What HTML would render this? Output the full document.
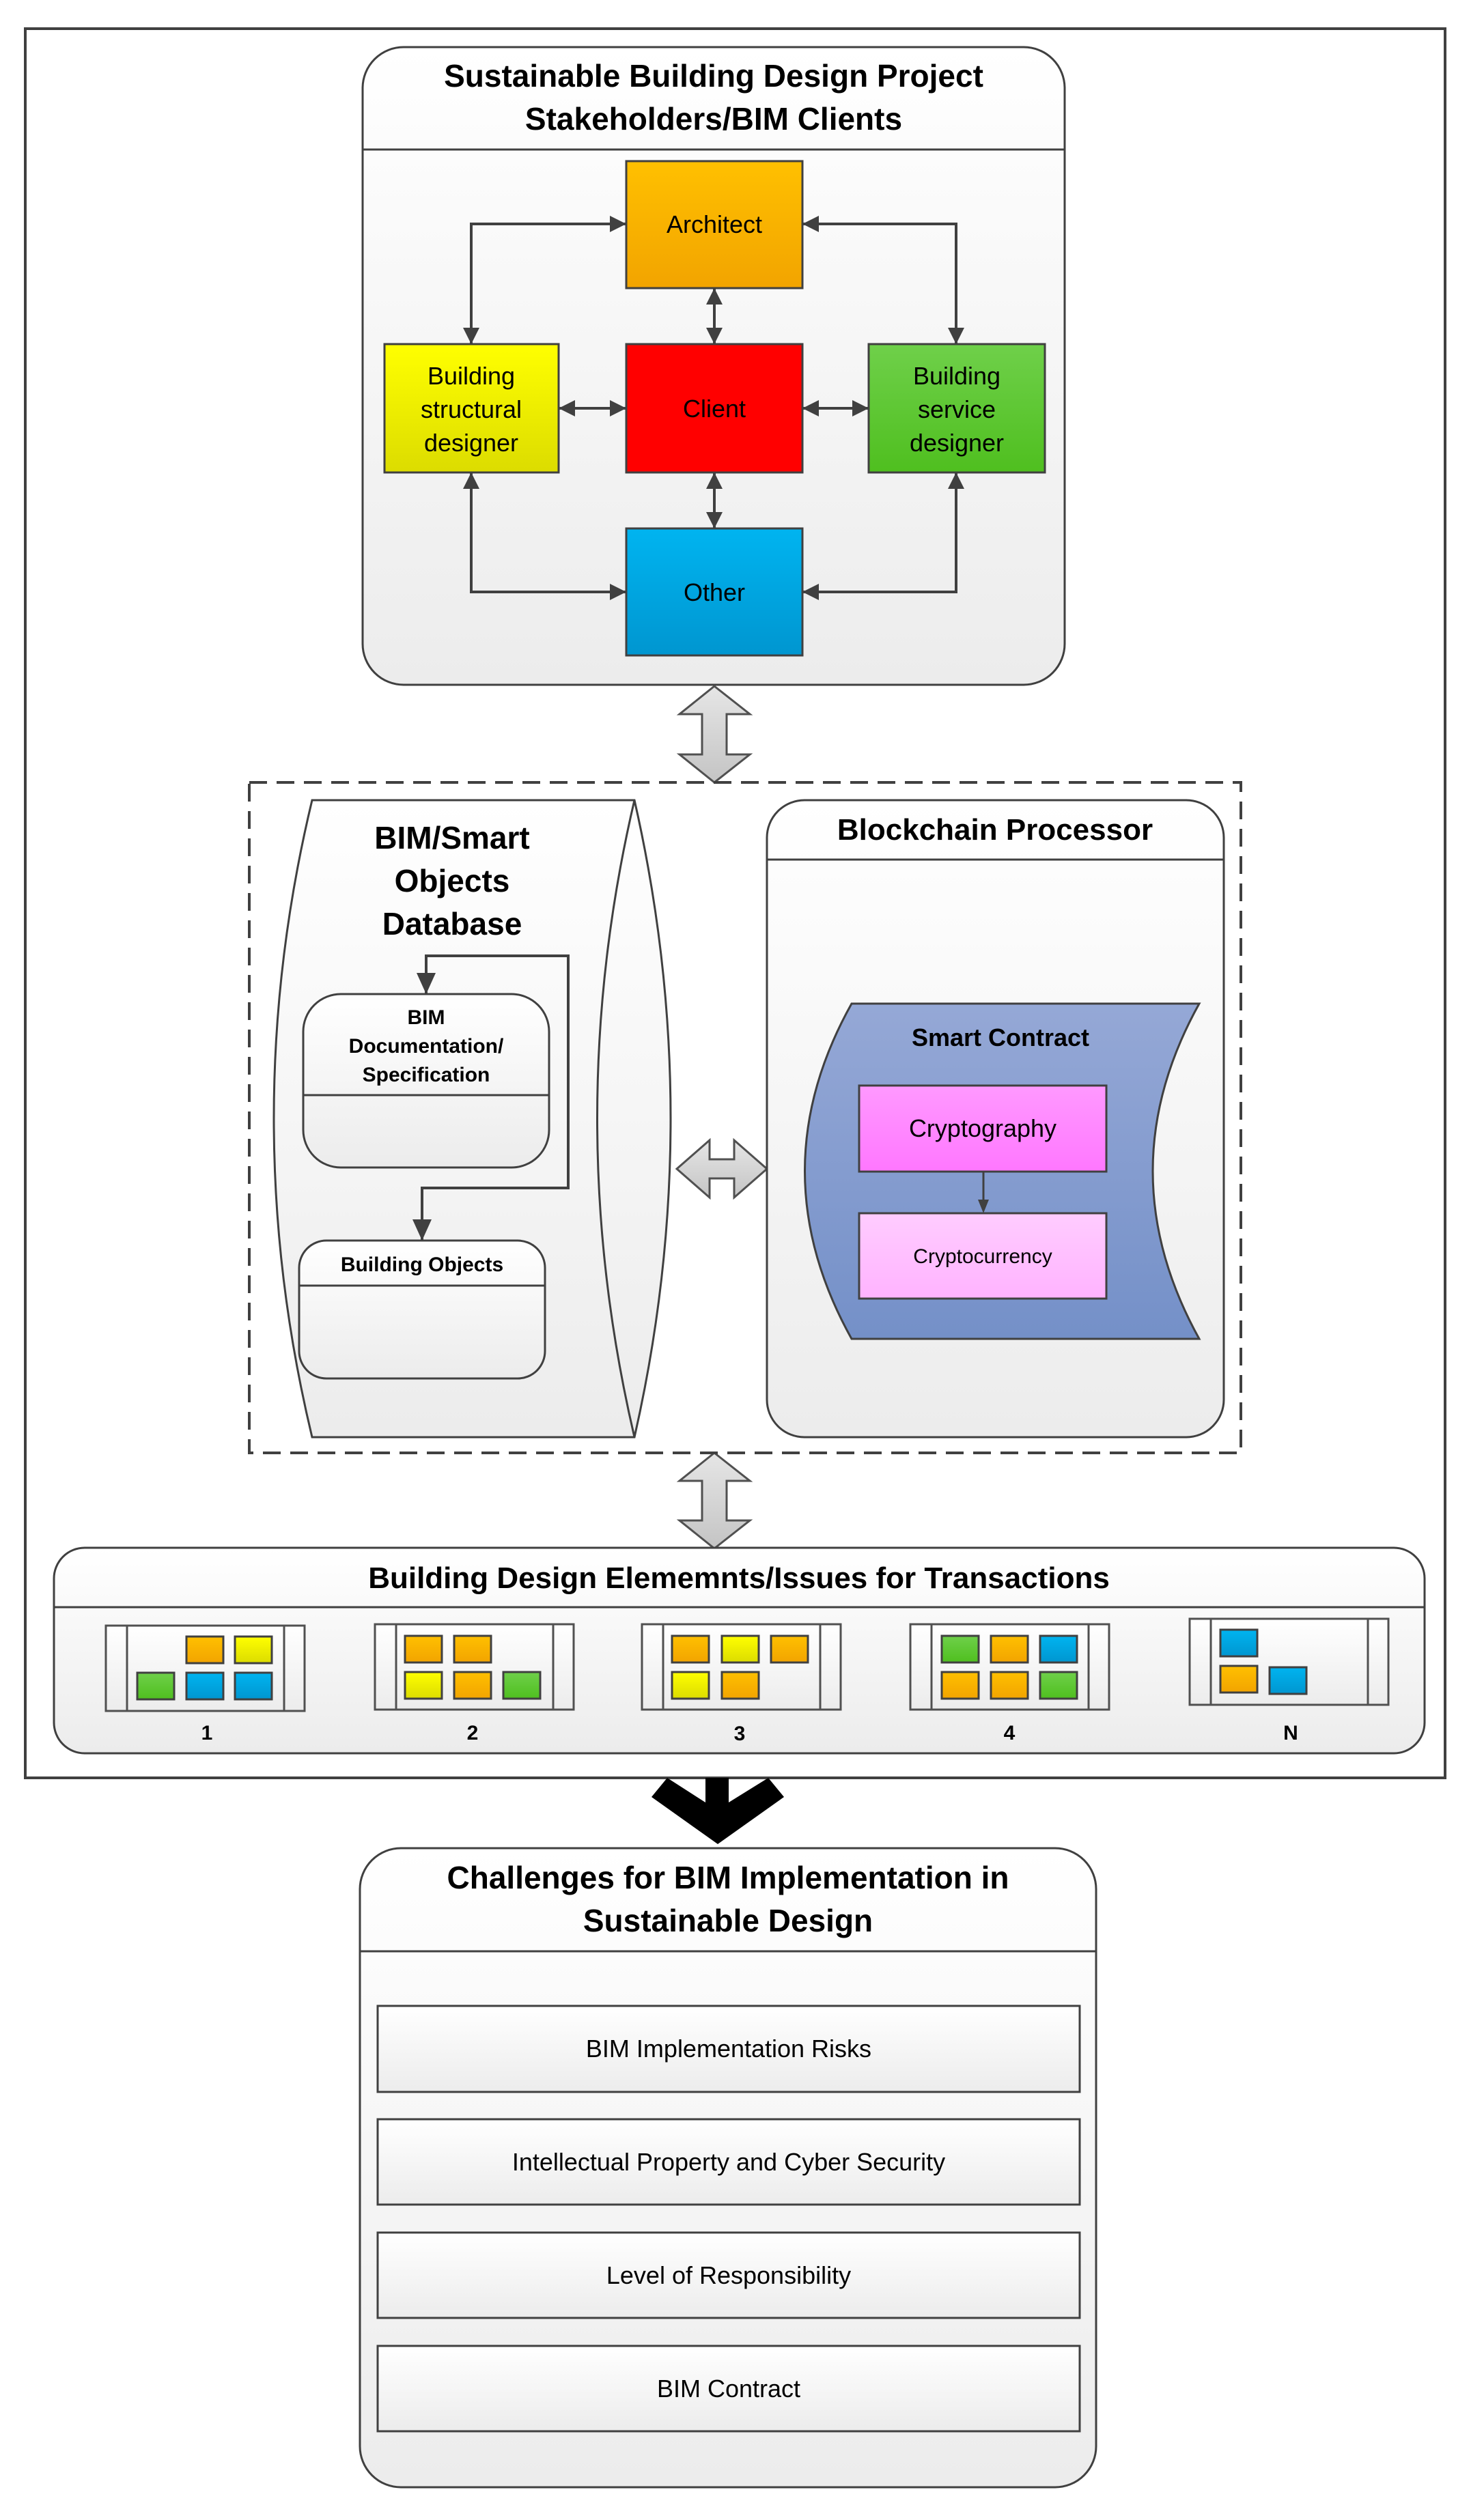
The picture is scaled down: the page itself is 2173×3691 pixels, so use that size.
<!DOCTYPE html>
<html><head><meta charset="utf-8"><style>
html,body{margin:0;padding:0;background:#fff}
svg{display:block}
text{font-family:"Liberation Sans",sans-serif;fill:#000}
</style></head><body>
<svg width="2173" height="3691" viewBox="0 0 2173 3691" xmlns="http://www.w3.org/2000/svg">
<defs>
<linearGradient id="gw" x1="0" y1="0" x2="0" y2="1"><stop offset="0" stop-color="#ffffff"/><stop offset="1" stop-color="#ececec"/></linearGradient>
<linearGradient id="ga" x1="0" y1="0" x2="0" y2="1"><stop offset="0" stop-color="#ffc000"/><stop offset="1" stop-color="#f2a400"/></linearGradient>
<linearGradient id="gy" x1="0" y1="0" x2="0" y2="1"><stop offset="0" stop-color="#ffff00"/><stop offset="1" stop-color="#dcdc00"/></linearGradient>
<linearGradient id="gg" x1="0" y1="0" x2="0" y2="1"><stop offset="0" stop-color="#6fd04a"/><stop offset="1" stop-color="#4fbf1f"/></linearGradient>
<linearGradient id="gb" x1="0" y1="0" x2="0" y2="1"><stop offset="0" stop-color="#00b4f0"/><stop offset="1" stop-color="#0096d0"/></linearGradient>
<linearGradient id="gs" x1="0" y1="0" x2="0" y2="1"><stop offset="0" stop-color="#95a8d6"/><stop offset="1" stop-color="#7490c8"/></linearGradient>
<linearGradient id="gp" x1="0" y1="0" x2="0" y2="1"><stop offset="0" stop-color="#ff99ff"/><stop offset="1" stop-color="#ff77ff"/></linearGradient>
<linearGradient id="gl" x1="0" y1="0" x2="0" y2="1"><stop offset="0" stop-color="#ffccff"/><stop offset="1" stop-color="#ffb3ff"/></linearGradient>
<linearGradient id="gar" x1="0" y1="0" x2="0" y2="1"><stop offset="0" stop-color="#e6e6e6"/><stop offset="1" stop-color="#c4c4c4"/></linearGradient>
<marker id="ah" viewBox="0 0 10 10" refX="10" refY="5" markerWidth="10" markerHeight="10" markerUnits="userSpaceOnUse" orient="auto-start-reverse"><path d="M0,0 L10,5 L0,10z" fill="#404040"/></marker>
<marker id="ah2" viewBox="0 0 10 10" refX="10" refY="5" markerWidth="28" markerHeight="24" markerUnits="userSpaceOnUse" orient="auto-start-reverse"><path d="M0,0 L10,5 L0,10z" fill="#404040"/></marker>
</defs>

<!-- outer border -->
<rect x="37" y="42" width="2079" height="2562" fill="none" stroke="#404040" stroke-width="4"/>

<!-- top panel -->
<rect x="531" y="69" width="1028" height="934" rx="60" fill="url(#gw)" stroke="#404040" stroke-width="3"/>
<line x1="531" y1="219" x2="1559" y2="219" stroke="#404040" stroke-width="3"/>
<text x="1045" y="127" font-size="46" font-weight="bold" text-anchor="middle">Sustainable Building Design Project</text>
<text x="1045" y="190" font-size="46" font-weight="bold" text-anchor="middle">Stakeholders/BIM Clients</text>

<g stroke="#404040" stroke-width="4" fill="none">
<path d="M917,328 H690 V504" marker-start="url(#ah2)" marker-end="url(#ah2)"/>
<path d="M1175,328 H1400 V504" marker-start="url(#ah2)" marker-end="url(#ah2)"/>
<path d="M917,867 H690 V692" marker-start="url(#ah2)" marker-end="url(#ah2)"/>
<path d="M1175,867 H1400 V692" marker-start="url(#ah2)" marker-end="url(#ah2)"/>
<path d="M1046,422 V504" marker-start="url(#ah2)" marker-end="url(#ah2)"/>
<path d="M1046,692 V774" marker-start="url(#ah2)" marker-end="url(#ah2)"/>
<path d="M818,598 H917" marker-start="url(#ah2)" marker-end="url(#ah2)"/>
<path d="M1175,598 H1272" marker-start="url(#ah2)" marker-end="url(#ah2)"/>
</g>
<g stroke="#404040" stroke-width="3">
<rect x="917" y="236" width="258" height="186" fill="url(#ga)"/>
<rect x="563" y="504" width="255" height="188" fill="url(#gy)"/>
<rect x="917" y="504" width="258" height="188" fill="#ff0000"/>
<rect x="1272" y="504" width="258" height="188" fill="url(#gg)"/>
<rect x="917" y="774" width="258" height="186" fill="url(#gb)"/>
</g>
<g font-size="36" text-anchor="middle">
<text x="1046" y="341">Architect</text>
<text x="690" y="563">Building</text>
<text x="690" y="612">structural</text>
<text x="690" y="661">designer</text>
<text x="1046" y="611">Client</text>
<text x="1401" y="563">Building</text>
<text x="1401" y="612">service</text>
<text x="1401" y="661">designer</text>
<text x="1046" y="880">Other</text>
</g>

<!-- vertical gray double arrows -->
<path d="M1046,1005 L1098,1046 H1064 V1105 H1098 L1046,1146 L995,1105 H1028 V1046 H995 Z" fill="url(#gar)" stroke="#505050" stroke-width="3"/>
<path d="M1046,2128 L1098,2169 H1064 V2227 H1098 L1046,2268 L995,2227 H1028 V2169 H995 Z" fill="url(#gar)" stroke="#505050" stroke-width="3"/>

<!-- dashed box -->
<rect x="365" y="1146" width="1452" height="982" fill="none" stroke="#404040" stroke-width="4" stroke-dasharray="26,14"/>

<!-- database shape -->
<path d="M457,1172 H929 Q1035,1638 929,2105 H457 Q345,1638 457,1172 Z" fill="url(#gw)" stroke="#404040" stroke-width="3"/>
<path d="M929,1172 Q820,1638 929,2105" fill="none" stroke="#404040" stroke-width="3"/>
<text x="662" y="1243" font-size="46" font-weight="bold" text-anchor="middle">BIM/Smart</text>
<text x="662" y="1306" font-size="46" font-weight="bold" text-anchor="middle">Objects</text>
<text x="662" y="1369" font-size="46" font-weight="bold" text-anchor="middle">Database</text>

<path d="M624,1456 V1400 H832 V1740 H618 V1817" fill="none" stroke="#404040" stroke-width="4"/>
<path d="M610,1425 L638,1425 L624,1456Z M604,1786 L632,1786 L618,1817Z" fill="#404040"/>

<rect x="444" y="1456" width="360" height="254" rx="55" fill="url(#gw)" stroke="#404040" stroke-width="3"/>
<line x1="444" y1="1604" x2="804" y2="1604" stroke="#404040" stroke-width="3"/>
<g font-size="30" font-weight="bold" text-anchor="middle">
<text x="624" y="1500">BIM</text>
<text x="624" y="1542">Documentation/</text>
<text x="624" y="1584">Specification</text>
<text x="618" y="1862">Building Objects</text>
</g>
<rect x="438" y="1817" width="360" height="202" rx="40" fill="url(#gw)" stroke="#404040" stroke-width="3"/>
<line x1="438" y1="1883" x2="798" y2="1883" stroke="#404040" stroke-width="3"/>
<text x="618" y="1862" font-size="30" font-weight="bold" text-anchor="middle">Building Objects</text>

<!-- horizontal gray double arrow -->
<path d="M991,1712 L1039,1670 V1698 H1075 V1670 L1123,1712 L1075,1754 V1726 H1039 V1754 Z" fill="url(#gar)" stroke="#505050" stroke-width="3"/>

<!-- blockchain -->
<rect x="1123" y="1172" width="669" height="933" rx="55" fill="url(#gw)" stroke="#404040" stroke-width="3"/>
<line x1="1123" y1="1259" x2="1792" y2="1259" stroke="#404040" stroke-width="3"/>
<text x="1457" y="1230" font-size="44" font-weight="bold" text-anchor="middle">Blockchain Processor</text>

<path d="M1247,1470 H1756 Q1620,1715 1756,1961 H1247 Q1110,1715 1247,1470 Z" fill="url(#gs)" stroke="#404040" stroke-width="3"/>
<text x="1465" y="1532" font-size="36" font-weight="bold" text-anchor="middle">Smart Contract</text>
<rect x="1258" y="1590" width="362" height="126" fill="url(#gp)" stroke="#404040" stroke-width="3"/>
<rect x="1258" y="1777" width="362" height="125" fill="url(#gl)" stroke="#404040" stroke-width="3"/>
<line x1="1440" y1="1716" x2="1440" y2="1760" stroke="#404040" stroke-width="3"/>
<path d="M1432,1757 L1448,1757 L1440,1777Z" fill="#404040"/>
<text x="1439" y="1665" font-size="36" text-anchor="middle">Cryptography</text>
<text x="1439" y="1850" font-size="30" text-anchor="middle">Cryptocurrency</text>

<!-- elements box -->
<rect x="79" y="2267" width="2007" height="301" rx="45" fill="url(#gw)" stroke="#404040" stroke-width="3"/>
<line x1="79" y1="2354" x2="2086" y2="2354" stroke="#404040" stroke-width="3"/>
<text x="1082" y="2326" font-size="44" font-weight="bold" text-anchor="middle">Building Design Elememnts/Issues for Transactions</text>

<g stroke="#505050" stroke-width="3" fill="url(#gw)">
<rect x="155" y="2381" width="291" height="125"/><line x1="186" y1="2381" x2="186" y2="2506"/><line x1="416" y1="2381" x2="416" y2="2506"/>
<rect x="549" y="2379" width="291" height="125"/><line x1="580" y1="2379" x2="580" y2="2504"/><line x1="810" y1="2379" x2="810" y2="2504"/>
<rect x="940" y="2379" width="291" height="125"/><line x1="971" y1="2379" x2="971" y2="2504"/><line x1="1201" y1="2379" x2="1201" y2="2504"/>
<rect x="1333" y="2379" width="291" height="125"/><line x1="1364" y1="2379" x2="1364" y2="2504"/><line x1="1594" y1="2379" x2="1594" y2="2504"/>
<rect x="1742" y="2371" width="291" height="126"/><line x1="1773" y1="2371" x2="1773" y2="2497"/><line x1="2003" y1="2371" x2="2003" y2="2497"/>
</g>
<g stroke="#404040" stroke-width="3">
<rect x="273" y="2397" width="54" height="39" fill="url(#ga)"/><rect x="344" y="2397" width="54" height="39" fill="url(#gy)"/>
<rect x="201" y="2450" width="54" height="39" fill="url(#gg)"/><rect x="273" y="2450" width="54" height="39" fill="url(#gb)"/><rect x="344" y="2450" width="54" height="39" fill="url(#gb)"/>

<rect x="593" y="2396" width="54" height="39" fill="url(#ga)"/><rect x="665" y="2396" width="54" height="39" fill="url(#ga)"/>
<rect x="593" y="2449" width="54" height="39" fill="url(#gy)"/><rect x="665" y="2449" width="54" height="39" fill="url(#ga)"/><rect x="737" y="2449" width="54" height="39" fill="url(#gg)"/>

<rect x="984" y="2396" width="54" height="39" fill="url(#ga)"/><rect x="1057" y="2396" width="54" height="39" fill="url(#gy)"/><rect x="1129" y="2396" width="54" height="39" fill="url(#ga)"/>
<rect x="984" y="2449" width="54" height="39" fill="url(#gy)"/><rect x="1057" y="2449" width="54" height="39" fill="url(#ga)"/>

<rect x="1379" y="2396" width="54" height="39" fill="url(#gg)"/><rect x="1451" y="2396" width="54" height="39" fill="url(#ga)"/><rect x="1523" y="2396" width="54" height="39" fill="url(#gb)"/>
<rect x="1379" y="2449" width="54" height="39" fill="url(#ga)"/><rect x="1451" y="2449" width="54" height="39" fill="url(#ga)"/><rect x="1523" y="2449" width="54" height="39" fill="url(#gg)"/>

<rect x="1787" y="2387" width="54" height="39" fill="url(#gb)"/>
<rect x="1787" y="2440" width="54" height="39" fill="url(#ga)"/><rect x="1859" y="2442" width="54" height="39" fill="url(#gb)"/>
</g>
<g font-size="30" font-weight="bold" text-anchor="middle">
<text x="303" y="2548">1</text><text x="692" y="2548">2</text><text x="1083" y="2549">3</text><text x="1478" y="2548">4</text><text x="1890" y="2548">N</text>
</g>

<!-- black chevron arrow -->
<path d="M1033,2604 H1067 V2640 L1125,2604 L1148,2632 L1051,2701 L954,2632 L977,2604 L1033,2640 Z" fill="#000"/>

<!-- challenges -->
<rect x="527" y="2707" width="1078" height="936" rx="60" fill="url(#gw)" stroke="#404040" stroke-width="3"/>
<line x1="527" y1="2858" x2="1605" y2="2858" stroke="#404040" stroke-width="3"/>
<text x="1066" y="2766" font-size="46" font-weight="bold" text-anchor="middle">Challenges for BIM Implementation in</text>
<text x="1066" y="2829" font-size="46" font-weight="bold" text-anchor="middle">Sustainable Design</text>
<g stroke="#404040" stroke-width="3" fill="url(#gw)">
<rect x="553" y="2938" width="1028" height="126"/>
<rect x="553" y="3104" width="1028" height="125"/>
<rect x="553" y="3270" width="1028" height="125"/>
<rect x="553" y="3436" width="1028" height="125"/>
</g>
<g font-size="36" text-anchor="middle">
<text x="1067" y="3013">BIM Implementation Risks</text>
<text x="1067" y="3179">Intellectual Property and Cyber Security</text>
<text x="1067" y="3345">Level of Responsibility</text>
<text x="1067" y="3511">BIM Contract</text>
</g>
</svg>
</body></html>
